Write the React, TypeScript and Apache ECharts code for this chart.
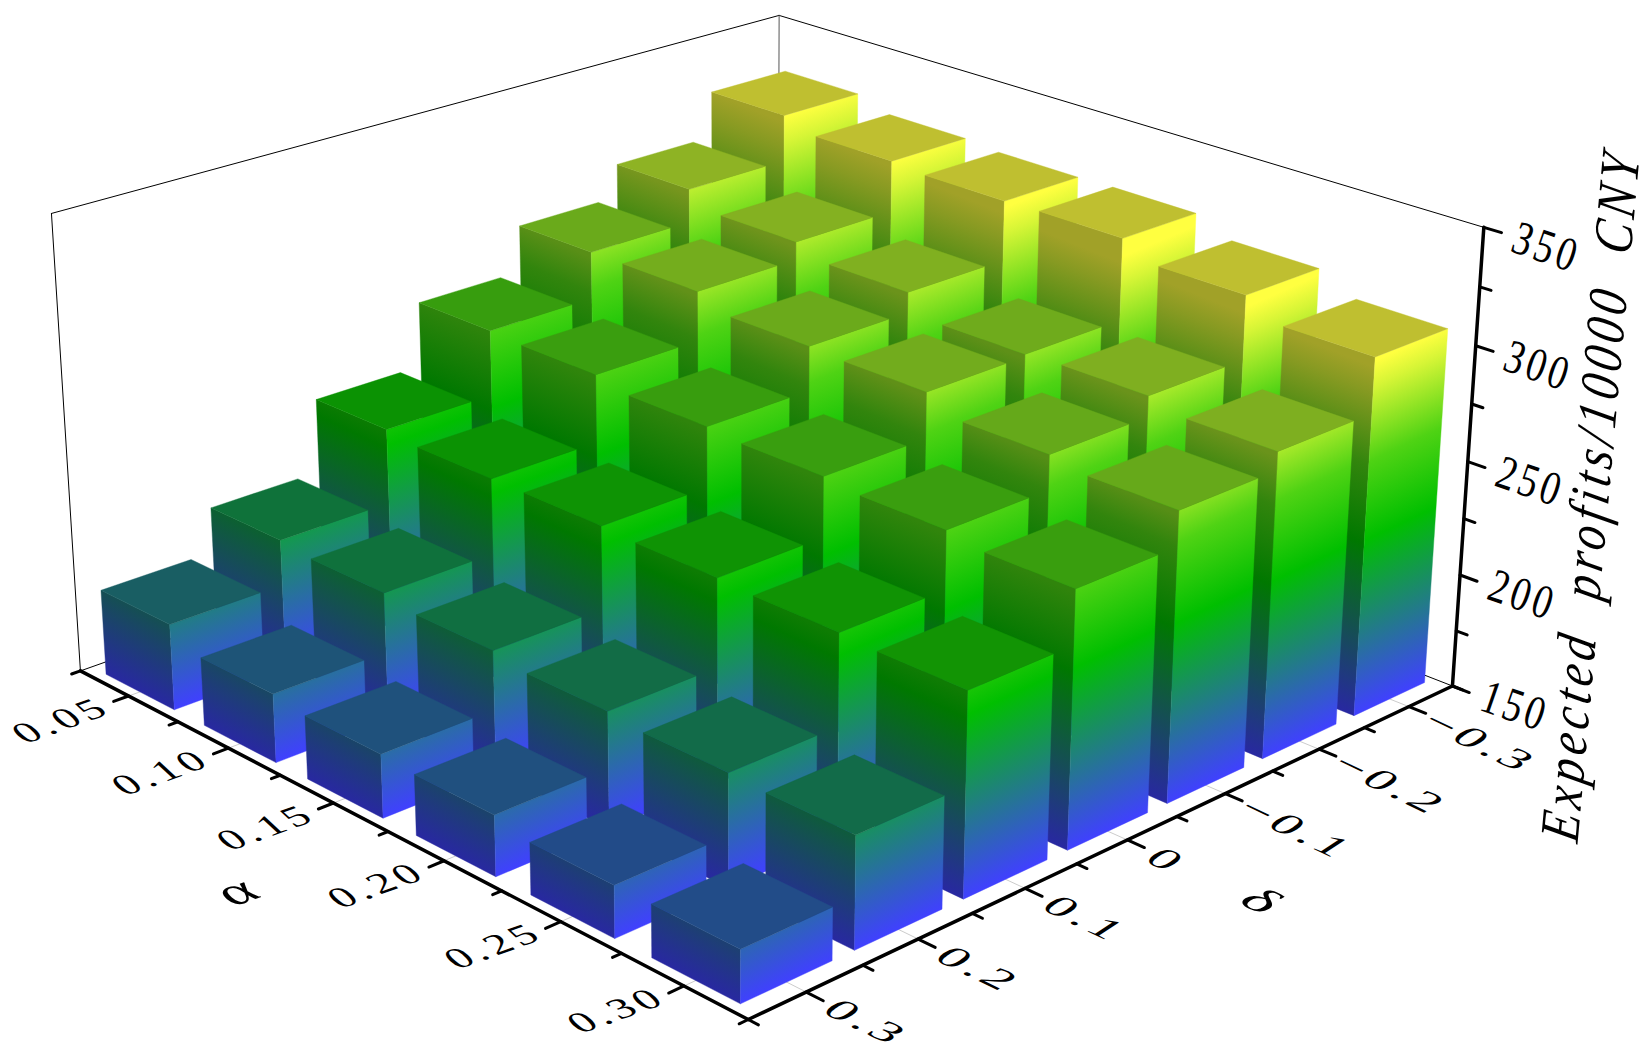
import React, { useEffect, useRef } from "react";
import * as echarts from "echarts";

const alphaLabels = ["0.05", "0.10", "0.15", "0.20", "0.25", "0.30"];
const deltaLabels = ["0.3", "0.2", "0.1", "0", "\u22120.1", "\u22120.2", "\u22120.3"];
const zTicks = [150, 200, 250, 300, 350];
const zRange = [150, 350];

// Expected profits, one list per alpha, delta running from 0.3 to -0.3
const profitAlpha005 = [188, 208, 241, 270, 291, 306, 327];
const profitAlpha010 = [180, 206, 239, 269, 291, 299, 322];
const profitAlpha015 = [177.5, 203, 239, 265.5, 285, 294, 320.5];
const profitAlpha020 = [176, 200, 238, 264, 284, 285, 321];
const profitAlpha025 = [172, 198, 237, 262, 277, 286, 314];
const profitAlpha030 = [172, 197, 236, 259, 274, 282, 306];
const profits = [profitAlpha005, profitAlpha010, profitAlpha015, profitAlpha020, profitAlpha025, profitAlpha030];

type C = [number, number, number, number, number];
const calib: C[] = [
  [0,0,0,80,671],[1,0,0,746.7,1021.7],[1,1,0,1451.7,686],[1,1,1,1483.3,226],[0,1,1,778.3,15],[0,0,1,52.4,212.8],
  [1/12,0,0,128,697],[3/12,0,0,230,749],[5/12,0,0,333,802],[9/12,0,0,561,921.7],[11/12,0,0,684,986.7],
  [1,1/14,0,806.7,991.7],[1,3/14,0,917,938],[1,5/14,0,1025,888],[1,7/14,0,1128,838],[1,9/14,0,1225,792],[1,11/14,0,1320,749],[1,13/14,0,1410,705],
  [1,1,.25,1460,578],[1,1,.5,1467,463],[1,1,.75,1477,347],
];
function solve(A: number[][], b: number[]) {
  const n = b.length; const M = A.map((r, i) => [...r, b[i]]);
  for (let c = 0; c < n; c++) {
    let p = c; for (let r = c; r < n; r++) if (Math.abs(M[r][c]) > Math.abs(M[p][c])) p = r;
    [M[c], M[p]] = [M[p], M[c]];
    for (let r = 0; r < n; r++) if (r !== c) { const f = M[r][c] / M[c][c]; for (let k = c; k <= n; k++) M[r][k] -= f * M[c][k]; }
  }
  return M.map((r, i) => r[n] / r[i]);
}
function fit() {
  const rows: number[][] = []; const rhs: number[] = [];
  for (const [u,v,w,x0,y0] of calib) {
    const x = x0/1000, y = y0/1000;
    rows.push([u,v,w,1,0,0,0,0,-x*u,-x*v,-x*w]); rhs.push(x);
    rows.push([0,0,0,0,u,v,w,1,-y*u,-y*v,-y*w]); rhs.push(y);
  }
  const N = 11; const A = Array.from({length:N},()=>new Array(N).fill(0)); const b = new Array(N).fill(0);
  rows.forEach((r,k)=>{ for(let i=0;i<N;i++){ b[i]+=r[i]*rhs[k]; for(let j=0;j<N;j++) A[i][j]+=r[i]*r[j]; } });
  return solve(A,b);
}
const P = fit();
const project = (u:number,v:number,w:number):[number,number] => {
  const d = P[8]*u+P[9]*v+P[10]*w+1;
  return [1000*(P[0]*u+P[1]*v+P[2]*w+P[3])/d, 1000*(P[4]*u+P[5]*v+P[6]*w+P[7])/d];
};

const colorStops: [number,number[]][] = [[150,[64,64,255]],[225,[0,191,0]],[259,[79,211,20]],[291,[214,245,54]],[302,[255,255,64]]];
function cmap(z:number){ if(z<=colorStops[0][0])return colorStops[0][1]; for(let i=1;i<colorStops.length;i++){ if(z<=colorStops[i][0]){const [a,ca]=colorStops[i-1],[b,cb]=colorStops[i];const t=(z-a)/(b-a);return ca.map((q,k)=>q+(cb[k]-q)*t);} } return colorStops[colorStops.length-1][1]; }
const rgb=(c:number[],f=1)=>`rgb(${c.map(q=>Math.round(q*f)).join(",")})`;
function faceGradient(A:number[],E:number[],B:number[],zTop:number,f:number){
  const ex=E[0]-A[0],ey=E[1]-A[1],l=Math.hypot(ex,ey),hx=ex/l,hy=ey/l; const bx=B[0]-A[0],by=B[1]-A[1],dot=bx*hx+by*hy;
  const stops=[{offset:0,color:rgb(cmap(zRange[0]),f)}];
  for(const [z] of colorStops) if(z>zRange[0]&&z<zTop) stops.push({offset:(z-zRange[0])/(zTop-zRange[0]),color:rgb(cmap(z),f)});
  stops.push({offset:1,color:rgb(cmap(zTop),f)});
  return {type:"linear",global:true,x:A[0],y:A[1],x2:A[0]+bx-dot*hx,y2:A[1]+by-dot*hy,colorStops:stops};
}
const affine=(X:number[],Y:number[])=>({scaleX:X[0],scaleY:Y[1],skewX:Math.atan(Y[0]/Y[1]),skewY:Math.atan(-X[1]/X[0])});

export default function App(){
  const ref=useRef<HTMLDivElement>(null);
  useEffect(()=>{
    const chart=echarts.init(ref.current!,undefined,{renderer:"svg"});
    const data:number[][]=[];
    for(let i=0;i<alphaLabels.length;i++) for(let j=deltaLabels.length-1;j>=0;j--) data.push([i,j,profits[i][j]]);
    const uv=(api:any,a:number,b:number)=>{const p=api.coord([a,b]);return [p[0]/1000,1-p[1]/1000];};
    const renderBar=(params:any,api:any)=>{
      const [u,v]=uv(api,api.value(0),api.value(1)); const s=api.size([1,1]);
      const hu=s[0]/1000*0.35, hv=s[1]/1000*0.4; const zTop=api.value(2);
      const zColor=zTop-29*(1-u)*v;
      const w=echarts.number.linearMap(zTop,zRange,[0,1],true);
      const a=project(u-hu,v-hv,0),b=project(u+hu,v-hv,0),c=project(u+hu,v+hv,0);
      const a2=project(u-hu,v-hv,w),b2=project(u+hu,v-hv,w),c2=project(u+hu,v+hv,w),d2=project(u-hu,v+hv,w);
      const left=faceGradient(a,b,a2,zColor,.63),right=faceGradient(b,c,b2,zColor,1),top=rgb(cmap(zColor),.75);
      return {type:"group",children:[
        {type:"polygon",shape:{points:[a,b,b2,a2]},style:{fill:left,stroke:left,lineWidth:.4}},
        {type:"polygon",shape:{points:[b,c,c2,b2]},style:{fill:right,stroke:right,lineWidth:.4}},
        {type:"polygon",shape:{points:[a2,b2,c2,d2]},style:{fill:top,stroke:top,lineWidth:.4}},
      ]};
    };
    const line=(p:number[],q:number[],width:number,color="#000")=>({type:"line",shape:{x1:p[0],y1:p[1],x2:q[0],y2:q[1]},style:{stroke:color,lineWidth:width,lineCap:"round"}});
    const renderFloor=(params:any,api:any)=>{
      const ch:any[]=[];
      alphaLabels.forEach((_,i)=>{const u=(api.coord([i,0])[0])/1000; ch.push(line(project(u,0,0),project(u,1,0),1,"#ccc"));});
      deltaLabels.forEach((_,j)=>{const v=1-api.coord([0,j])[1]/1000; ch.push(line(project(0,v,0),project(1,v,0),1,"#ccc"));});
      const L=project(0,0,0),B=project(0,1,0),R=project(1,1,0),L2=project(0,0,1),B2=project(0,1,1),R2=project(1,1,1);
      ch.push(line(L,B,1),line(B,R,1),line(L,L2,1),line(L2,B2,1),line(B2,R2,1),line(B,B2,1,"#555"));
      return {type:"group",children:ch};
    };
    const text=(t:string,x:number,y:number,X:number[],Y:number[],font:string)=>({type:"text",x,y,...affine(X,Y),style:{text:t,x:0,y:0,font,fill:"#000",align:"center",verticalAlign:"middle"}});
    const serif='40px "Liberation Serif"';
    const aX=[1.03,-.37],aY=[.66,.61],dX=[1.17,.56],dY=[-.8,.52];
    const renderAxes=(params:any,api:any)=>{
      const ch:any[]=[];
      ch.push(line(project(0,0,0),project(1,0,0),3.5),line(project(1,0,0),project(1,1,0),3.5),line(project(1,1,0),project(1,1,1),3.5));
      const nA=alphaLabels.length,nD=deltaLabels.length;
      for(let i=0;i<=nA;i++){const u=i/nA;ch.push(line(project(u,0,0),project(u,-.011,0),3));}
      for(let j=0;j<=nD;j++){const v=j/nD;ch.push(line(project(1,v,0),project(1.013,v,0),3));}
      alphaLabels.forEach((lab,i)=>{const u=api.coord([i,0])[0]/1000;const p=project(u,0,0);ch.push(line(p,project(u,-.0186,0),3));ch.push(text(lab,p[0]-68,p[1]+24,aX,aY,serif));});
      deltaLabels.forEach((lab,j)=>{const v=1-api.coord([0,j])[1]/1000;const p=project(1,v,0);ch.push(line(p,project(1.0217,v,0),3));const n=lab.length-1;ch.push(text(lab,p[0]+40+n*10.5,p[1]+20+n*5,dX,dY,serif));});
      zTicks.forEach((z,k)=>{const w=echarts.number.linearMap(z,zRange,[0,1],true);const p=project(1,1,w);ch.push(line(p,project(1.0217,1,w),3));ch.push(text(String(z),p[0]+63,p[1]+19,[.9,.31],[-.39,1.13],serif));
        if(k<zTicks.length-1){const w2=echarts.number.linearMap(z+25,zRange,[0,1],true);ch.push(line(project(1,1,w2),project(1.014,1,w2),3));}});
      ch.push(text("\u03b1",238,890,[1.4,-.5],[.95,.8],serif),text("\u03b4",1265,902,[1.45,.7],[-.95,.6],serif));
      ch.push(text("Expected\u00a0 profits/10000\u00a0 CNY",1590,495,[.106,-1.175],[1.38,.28],'italic 40px "Liberation Serif"'));
      return {type:"group",children:ch};
    };
    chart.setOption({animation:false,
      grid:{left:0,top:0,width:1000,height:1000,show:false},
      xAxis:{type:"category",data:alphaLabels,show:false},
      yAxis:{type:"category",data:deltaLabels,show:false},
      series:[
        {type:"custom",coordinateSystem:"cartesian2d",data:[[0,0]],renderItem:renderFloor,silent:true,z:1},
        {type:"custom",coordinateSystem:"cartesian2d",data:[[0,0]],renderItem:renderAxes,silent:true,z:2},
        {type:"custom",coordinateSystem:"cartesian2d",data,renderItem:renderBar,silent:true,encode:{x:0,y:1},z:3},
      ]});
    return ()=>chart.dispose();
  },[]);
  return <div style={{position:"fixed",left:0,top:0,width:1644,height:1061,background:"#fff"}}>
    <div ref={ref} style={{width:1644,height:1061,letterSpacing:"4px"}}/>
  </div>;
}
